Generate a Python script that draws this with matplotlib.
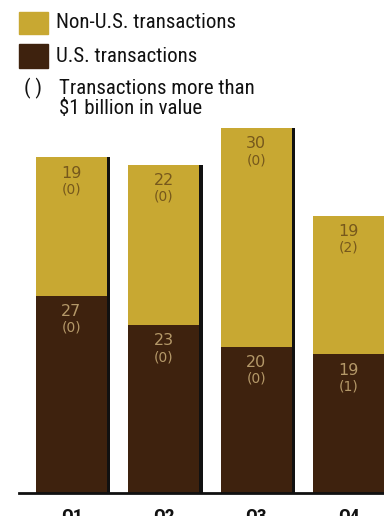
import matplotlib
matplotlib.use("Agg")
import matplotlib.pyplot as plt
from matplotlib.patches import Rectangle

quarters = ["Q1", "Q2", "Q3", "Q4"]
us_counts = [27, 23, 20, 19]
us_large = [0, 0, 0, 1]
non_us_counts = [19, 22, 30, 19]
non_us_large = [0, 0, 0, 2]

YELLOW = "#C8A832"
BROWN = "#3E220E"
SHADOW = "#111111"
TXT_ON_YELLOW = "#76581C"
TXT_ON_BROWN = "#B49868"

W, H = 384, 516
fig = plt.figure(figsize=(W / 100, H / 100), dpi=100)
fig.patch.set_facecolor("white")

cond = ["Roboto Condensed", "DejaVu Sans"]

ax = fig.add_axes([19 / W, (H - 493) / H, (W - 19) / W, 493 / H])
px_per_unit = 7.3
ax.set_ylim(0, 493 / px_per_unit)
spacing = 92.3
ax.set_xlim(-(71.5 - 19) / spacing, (384 - 71.5) / spacing)

x = list(range(len(quarters)))
width = 0.77
totals = [a + b for a, b in zip(us_counts, non_us_counts)]
ax.bar([xi + 0.035 for xi in x], totals, width=width, color=SHADOW, zorder=1)
ax.bar(x, us_counts, width=width, color=BROWN, zorder=2)
ax.bar(x, non_us_counts, width=width, bottom=us_counts, color=YELLOW, zorder=2)

for xi, u, ul, n, nl in zip(x, us_counts, us_large, non_us_counts, non_us_large):
    ax.annotate(f"{n}", (xi, u + n), xytext=(0, -6), textcoords="offset points",
                ha="center", va="top", fontsize=11.5, color=TXT_ON_YELLOW, zorder=3)
    ax.annotate(f"({nl})", (xi, u + n), xytext=(0, -18), textcoords="offset points",
                ha="center", va="top", fontsize=10, color=TXT_ON_YELLOW, zorder=3)
    ax.annotate(f"{u}", (xi, u), xytext=(0, -6), textcoords="offset points",
                ha="center", va="top", fontsize=11.5, color=TXT_ON_BROWN, zorder=3)
    ax.annotate(f"({ul})", (xi, u), xytext=(0, -18), textcoords="offset points",
                ha="center", va="top", fontsize=10, color=TXT_ON_BROWN, zorder=3)

for s in ["top", "right", "left"]:
    ax.spines[s].set_visible(False)
ax.spines["bottom"].set_linewidth(2)
ax.spines["bottom"].set_color("#111111")
ax.set_yticks([])
ax.set_xticks(x)
ax.set_xticklabels(quarters, fontsize=14, fontweight="bold", family=cond, color="#111111")
ax.tick_params(axis="x", length=0, pad=11)

def fx(px):
    return px / W

def fy(py):
    return 1 - py / H

fig.patches.append(Rectangle((fx(19), fy(34)), 29 / W, 22 / H, transform=fig.transFigure,
                             color=YELLOW, figure=fig))
fig.patches.append(Rectangle((fx(19), fy(68)), 29 / W, 24 / H, transform=fig.transFigure,
                             color=BROWN, figure=fig))
kw = dict(ha="left", va="center", fontsize=15, family=cond, color="#111111")
fig.text(fx(56), fy(23), "Non-U.S. transactions", **kw)
fig.text(fx(56), fy(56), "U.S. transactions", **kw)
fig.text(fx(24), fy(88), "( )", **kw)
fig.text(fx(59), fy(88), "Transactions more than", **kw)
fig.text(fx(59), fy(108), "$1 billion in value", **kw)

fig.savefig("out.png", dpi=100, facecolor="white")
